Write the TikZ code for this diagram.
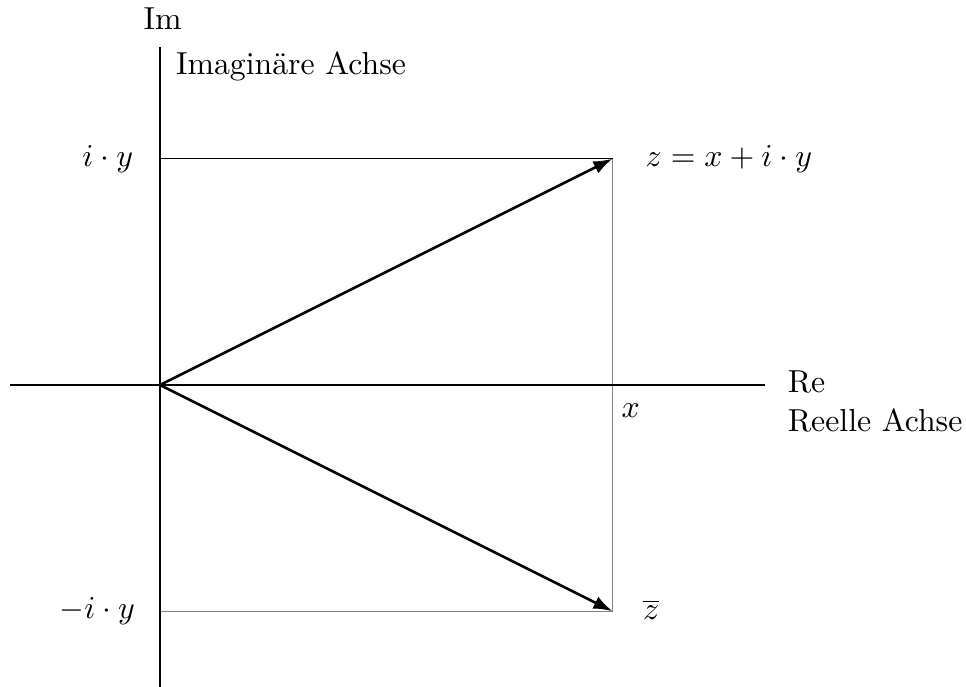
\documentclass[tikz,border=0pt]{standalone}
\usetikzlibrary{arrows.meta}
\begin{document}
\begin{tikzpicture}[
  axis/.style={line width=0.8pt},
  helper/.style={line width=0.35pt},
  vec/.style={line width=0.8pt,-{Latex[length=6pt,width=4.2pt]}},
  lbl/.style={inner sep=0pt}
]
\useasboundingbox (-1.768,-3.326) rectangle (8.906,4.254);
\coordinate (O) at (0,0);
\coordinate (xl) at (-1.66,0);
\coordinate (xr) at (6.69,0);
\coordinate (yb) at (0,-3.4);
\coordinate (yt) at (0,3.73);
\coordinate (Z) at (5,2.5);
\coordinate (Zb) at (5,-2.5);
\coordinate (Y) at (0,2.5);
\coordinate (Yb) at (0,-2.5);
\coordinate (X) at (5,0);
% helper lines
\draw[helper] (Y) -- (Z);
\draw[helper,gray] (Z) -- (Zb);
\draw[helper,gray] (Yb) -- (Zb);
% axes
\draw[axis] (xl) -- (xr);
\draw[axis] (yb) -- (yt);
% vectors
\draw[vec] (O) -- (Z);
\draw[vec] (O) -- (Zb);
% labels
\node[lbl,anchor=base] (im) at (0.03,3.93) {Im};
\node[lbl,anchor=base west] (ima) at (0.17,3.43) {Imagin\"are Achse};
\node[lbl,anchor=base west] (re) at (6.93,-0.08) {Re};
\node[lbl,anchor=base west] (rea) at (6.93,-0.51) {Reelle Achse};
\node[lbl,anchor=east] (iy) at (-0.29,2.5) {$i\cdot y$};
\node[lbl,anchor=east] (miy) at (-0.27,-2.5) {$-i\cdot y$};
\node[lbl,anchor=west] (zl) at (5.36,2.5) {$z=x+i\cdot y$};
\node[lbl,anchor=base] (xlab) at (5.2,-0.36) {$x$};
\node[lbl,anchor=west] (zbl) at (5.33,-2.48) {$\overline{z}$};
\end{tikzpicture}
\end{document}
